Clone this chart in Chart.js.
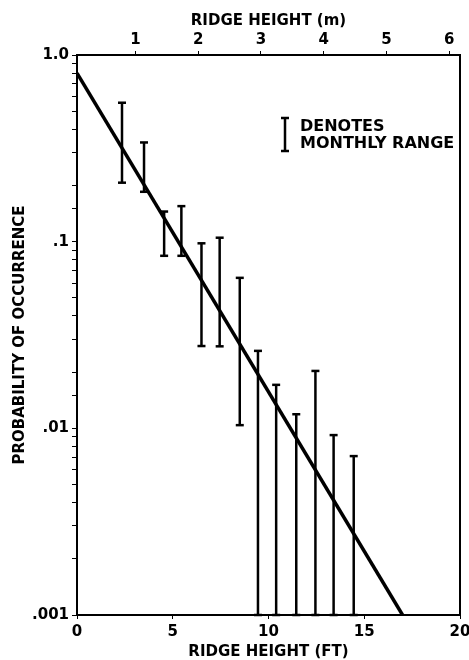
<!DOCTYPE html>
<html>
<head>
<meta charset="utf-8">
<script src="https://cdn.jsdelivr.net/npm/chart.js@4/dist/chart.umd.min.js"></script>
<style>
  body { margin: 0; background: #fff; }
  canvas { display: block; }
</style>
</head>
<body>
<canvas id="chart" width="469" height="660"></canvas>
<script>
// monthly ranges of ridge height probability
const binX    = [2.35, 3.5, 4.55, 5.45, 6.5, 7.45, 8.5, 9.45, 10.4, 11.45, 12.45, 13.4, 14.45];
const binHigh = [0.555, 0.34, 0.145, 0.155, 0.098, 0.105, 0.064, 0.026, 0.0171, 0.0119, 0.0203, 0.0092, 0.0071];
const binLow  = [0.207, 0.185, 0.084, 0.084, 0.0276, 0.0275, 0.0104, 0.001, 0.001, 0.001, 0.001, 0.001, 0.001];

// fitted line
const fitX = [0, 17.0];
const fitY = [0.8, 0.001];

// axis ticks
const yTickValues = [1, 0.1, 0.01, 0.001];
const yTickLabels = ['1.0', '.1', '.01', '.001'];
const xTickValues = [0, 5, 10, 15, 20];
const mTickValues = [1, 2, 3, 4, 5, 6];

const FONT = { family: 'DejaVu Sans', weight: 'bold', size: 15 };
const TITLE_FONT = { family: 'DejaVu Sans', weight: 'bold', size: 15, lineHeight: 1 };
const INK = '#000';

const stems = binX.map((x, i) => ({
    type: 'line',
    data: [{ x: x, y: binLow[i] }, { x: x, y: binHigh[i] }],
    borderColor: INK,
    borderWidth: 2.5,
    pointRadius: 0,
    clip: false,
}));

const caps = {
    type: 'scatter',
    data: binX.flatMap((x, i) => [{ x: x, y: binLow[i] }, { x: x, y: binHigh[i] }]),
    pointStyle: 'line',
    pointRadius: 4,
    borderColor: INK,
    borderWidth: 2.5,
    clip: false,
};

const fit = {
    type: 'line',
    data: fitX.map((x, i) => ({ x: x, y: fitY[i] })),
    borderColor: INK,
    borderWidth: 3.5,
    pointRadius: 0,
};

// "I DENOTES MONTHLY RANGE" key
const keyPlugin = {
    id: 'key',
    afterDraw(chart) {
        const ctx = chart.ctx;
        const a = chart.chartArea;
        const x = a.left + 208, y0 = a.top + 63, y1 = a.top + 96;
        ctx.save();
        ctx.strokeStyle = INK;
        ctx.lineWidth = 2.5;
        ctx.beginPath();
        ctx.moveTo(x, y0); ctx.lineTo(x, y1);
        ctx.moveTo(x - 4, y0); ctx.lineTo(x + 4, y0);
        ctx.moveTo(x - 4, y1); ctx.lineTo(x + 4, y1);
        ctx.stroke();
        ctx.fillStyle = INK;
        ctx.font = 'bold 16px "DejaVu Sans"';
        ctx.textBaseline = 'alphabetic';
        ctx.fillText('DENOTES', x + 15, a.top + 76);
        ctx.fillText('MONTHLY RANGE', x + 15, a.top + 93);
        ctx.restore();
    }
};

const fixSidePad = s => { s.paddingLeft = 0; s.paddingRight = 0; };

new Chart(document.getElementById('chart'), {
    type: 'scatter',
    data: { datasets: [fit, ...stems, caps] },
    options: {
        responsive: false,
        animation: false,
        layout: { padding: { left: 0, right: 9, top: 0, bottom: 0 } },
        plugins: { legend: { display: false }, tooltip: { enabled: false } },
        scales: {
            x: {
                type: 'linear',
                position: 'bottom',
                min: 0, max: 20,
                offset: false,
                afterBuildTicks: s => { s.ticks = xTickValues.map(v => ({ value: v })); },
                ticks: { color: INK, font: FONT, padding: 4, maxRotation: 0 },
                grid: { drawOnChartArea: false, offset: false, color: INK, tickLength: 4 },
                border: { color: INK, width: 2 },
                title: { display: true, text: 'RIDGE HEIGHT (FT)', color: INK, font: TITLE_FONT, padding: { top: 2, bottom: 0 } },
                afterFit: s => { s.height = 45; fixSidePad(s); },
            },
            x2: {
                type: 'linear',
                position: 'top',
                min: 0.07, max: 6.17,
                afterBuildTicks: s => { s.ticks = mTickValues.map(v => ({ value: v })); },
                ticks: { color: INK, font: FONT, padding: 2, maxRotation: 0 },
                grid: { drawOnChartArea: false, color: INK, tickLength: 4 },
                border: { color: INK, width: 2 },
                title: { display: true, text: 'RIDGE HEIGHT (m)', color: INK, font: TITLE_FONT, padding: { top: 14, bottom: 0 } },
                afterFit: s => { s.height = 55; fixSidePad(s); },
            },
            y: {
                type: 'logarithmic',
                position: 'left',
                min: 0.001, max: 1,
                ticks: {
                    color: INK, font: FONT, padding: 3, autoSkip: false,
                    callback: v => {
                        const i = yTickValues.findIndex(t => Math.abs(t - v) < t * 1e-6);
                        return i >= 0 ? yTickLabels[i] : '';
                    }
                },
                grid: { drawOnChartArea: false, color: INK, tickLength: 5 },
                border: { color: INK, width: 2 },
                title: { display: true, text: 'PROBABILITY OF OCCURRENCE', color: INK, font: TITLE_FONT, padding: { top: 13, bottom: 0 } },
                afterFit: s => { s.width = 77; },
            },
            y2: {
                type: 'logarithmic',
                position: 'right',
                min: 0.001, max: 1,
                ticks: { display: false },
                grid: { drawOnChartArea: false, drawTicks: false },
                border: { color: INK, width: 2 },
                afterFit: s => { s.width = 0; },
            },
        },
    },
    plugins: [keyPlugin],
});
</script>
</body>
</html>
